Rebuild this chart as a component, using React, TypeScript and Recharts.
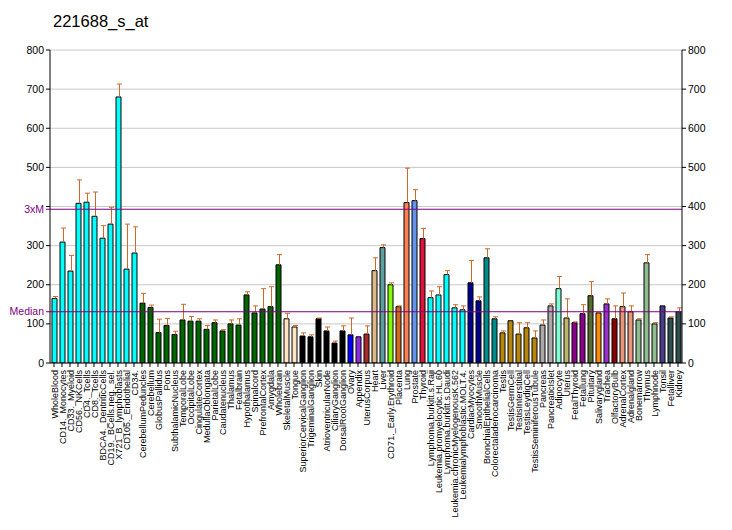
import React from "react";
import {
  ComposedChart,
  Bar,
  Cell,
  XAxis,
  YAxis,
  CartesianGrid,
  ReferenceLine,
} from "recharts";

const categories: string[] = [
  "WholeBlood", "CD14._Monocytes", "CD33._Myeloid", "CD56._NKCells", "CD4._Tcells",
  "CD8._Tcells", "BDCA4._DentriticCells", "CD19._BCells.neg._sel.", "X721_B_lymphoblasts",
  "CD105._Endothelial", "CD34.", "CerebellumPeduncles", "Cerebellum", "GlobusPallidus",
  "Pons", "SubthalamicNucleus", "TemporalLobe", "OccipitalLobe", "CingulateCortex",
  "MedullaOblongata", "ParietalLobe", "Caudatenucleus", "Thalamus", "Fetalbrain",
  "Hypothalamus", "Spinalcord", "PrefrontalCortex", "Amygdala", "Wholebrain",
  "SkeletalMuscle", "Tongue", "SuperiorCervicalGanglion", "TrigeminalGanglion", "Skin",
  "AtrioventricularNode", "CiliaryGanglion", "DorsalRootGanglion", "Ovary", "Appendix",
  "UterusCorpus", "Heart", "Liver", "CD71._Early.Erythroid", "Placenta", "Lung",
  "Prostate", "Thyroid", "Lymphoma.burkitt.s.Raji", "Leukemia.promyelocytic.HL.60",
  "Lymphoma.burkitt.s.Daudi", "Leukemia.chronicMyelogenousK.562",
  "Leukemialymphoblastic.MOLT.4.", "CardiacMyocytes", "SmoothMuscle",
  "BronchialEpithelialCells", "Colorectaladenocarcinoma", "Testis", "TestisGermCell",
  "TestisInterstitial", "TestisLeydigCell", "TestisSeminiferousTubule", "Pancreas",
  "PancreaticIslet", "Adipocyte", "Uterus", "FetalThyroid", "Fetallung", "Pituitary",
  "Salivarygland", "Trachea", "OlfactoryBulb", "AdrenalCortex", "Adrenalgland",
  "Bonemarrow", "Thymus", "Lymphnode", "Tonsil", "Fetalliver", "Kidney",
];

const values: number[] = [
  165, 309, 235, 408, 411, 375, 319, 355, 680, 240, 281,
  153, 142, 78, 96, 73, 110, 107, 107, 86, 103, 82, 100, 97, 174, 128, 138, 144, 251,
  113, 92, 69, 67, 113, 82, 51, 82, 72, 67, 74, 236, 295, 200, 144, 410, 415, 318,
  167, 174, 226, 141, 136, 205, 159, 269, 113, 77, 108, 74, 90, 64, 97, 146, 190, 115,
  103, 126, 172, 128, 151, 113, 144, 131, 110, 256, 100, 146, 115, 131,
];

const errors: number[] = [
  5, 36, 40, 60, 23, 62, 32, 43, 33, 115, 67,
  25, 6, 34, 18, 8, 40, 12, 6, 10, 7, 3, 10, 16, 8, 18, 52, 51, 26,
  14, 4, 8, 5, 2, 10, 5, 13, 43, 0, 21, 33, 7, 5, 2, 88, 28, 26,
  17, 21, 10, 8, 10, 57, 10, 23, 5, 5, 0, 29, 13, 18, 13, 5, 31, 49,
  2, 23, 36, 0, 13, 33, 35, 15, 3, 21, 3, 0, 3, 10,
];

const barColors: string[] = [
  "#00FFFF", "#00FFFF", "#00FFFF", "#00FFFF", "#00FFFF", "#00FFFF", "#00FFFF", "#00FFFF",
  "#00FFFF", "#00FFFF", "#00FFFF",
  "#006400", "#006400", "#006400", "#006400", "#006400", "#006400", "#006400", "#006400",
  "#006400", "#006400", "#006400", "#006400", "#006400", "#006400", "#006400", "#006400",
  "#006400", "#006400",
  "#FFE4C4", "#FFE4C4",
  "#000000", "#000000", "#000000", "#000000", "#000000", "#000000",
  "#0000FF", "#8A2BE2", "#A52A2A", "#DEB887", "#5F9EA0", "#7FFF00", "#D2691E", "#FF7F50",
  "#6495ED", "#DC143C",
  "#00FFFF", "#00FFFF", "#00FFFF", "#00FFFF", "#00FFFF",
  "#00008B", "#00008B", "#008B8B", "#008B8B",
  "#B8860B", "#B8860B", "#B8860B", "#B8860B", "#B8860B",
  "#A9A9A9", "#A9A9A9", "#7FFFD4", "#BDB76B", "#8B008B", "#8B008B", "#556B2F", "#FF8C00",
  "#9932CC", "#8B0000", "#E9967A", "#E9967A", "#8FBC8F", "#8FBC8F", "#8FBC8F", "#483D8B",
  "#2F4F4F", "#2F4F4F",
];

const yTicks: number[] = [0, 100, 200, 300, 400, 500, 600, 700, 800];
const medianValue = 131;
const threeXMValue = 393;

const data = categories.map((name, i) => ({
  name,
  value: values[i],
  err: errors[i],
}));

const FONT = "'Liberation Sans', Arial, Helvetica, sans-serif";
const PURPLE = "#800080";
const ERR = "#CC6A2C";

const XTick = (props: any) => {
  const { x, y, payload } = props;
  return (
    <text
      x={0}
      y={0}
      transform={`translate(${x + 3.5},${y + 1}) rotate(-90)`}
      textAnchor="end"
      fontSize={9}
      fontFamily={FONT}
      fill="#000"
    >
      {payload.value}
    </text>
  );
};

const LeftTick = (props: any) => {
  const { x, y, payload } = props;
  if (payload.value === 400) return <g />;
  return (
    <text x={x} y={y} dy={3.5} textAnchor="end" fontSize={10.5} fontFamily={FONT} fill="#000">
      {payload.value}
    </text>
  );
};

const RightTick = (props: any) => {
  const { x, y, payload } = props;
  return (
    <text x={x} y={y} dy={3.5} textAnchor="start" fontSize={10.5} fontFamily={FONT} fill="#000">
      {payload.value}
    </text>
  );
};

const ErrShape = (props: any) => {
  const { x, y, width, height } = props;
  if (!height || height < 0.5) return <g />;
  const cx = Math.round(x + width / 2) + 0.5;
  return (
    <g>
      <line x1={cx} x2={cx} y1={y + height} y2={y} stroke={ERR} strokeWidth={1} />
      <line x1={cx - 2.5} x2={cx + 2.5} y1={y} y2={y} stroke={ERR} strokeWidth={1} />
    </g>
  );
};

const refLabel = (text: string) => (props: any) => {
  const vb = props.viewBox || {};
  const x = vb.x ?? 50;
  const y = vb.y ?? 0;
  return (
    <g>
      <line x1={x - 4} x2={x} y1={y} y2={y} stroke={PURPLE} strokeWidth={1} />
      <text x={x - 6} y={y} dy={3.5} textAnchor="end" fontSize={10.5} fontFamily={FONT} fill={PURPLE}>
        {text}
      </text>
    </g>
  );
};

export default function App() {
  return (
    <div style={{ position: "absolute", left: 0, top: 0, width: 732, height: 530, background: "#fff" }}>
      <div
        style={{
          position: "absolute",
          left: 53,
          top: 13,
          fontFamily: FONT,
          fontSize: "16.5px",
          lineHeight: "16.5px",
          color: "#000",
          whiteSpace: "nowrap",
        }}
      >
        221688_s_at
      </div>
      <ComposedChart
        width={732}
        height={530}
        data={data}
        margin={{ top: 50, right: 0, left: 0, bottom: 0 }}
        barCategoryGap={0}
      >
        <CartesianGrid horizontal={true} vertical={false} stroke="#C8C8C8" strokeWidth={1} />
        <XAxis
          dataKey="name"
          interval={0}
          height={167}
          tickSize={4}
          tickMargin={2}
          axisLine={{ stroke: "#000" }}
          tickLine={{ stroke: "#000" }}
          tick={XTick}
        />
        <YAxis
          domain={[0, 800]}
          ticks={yTicks}
          width={50}
          tickSize={4}
          tickMargin={2}
          axisLine={{ stroke: "#000" }}
          tickLine={{ stroke: "#000" }}
          tick={LeftTick}
          allowDataOverflow={true}
        />
        <YAxis
          yAxisId="right"
          orientation="right"
          domain={[0, 800]}
          ticks={yTicks}
          width={50}
          tickSize={4}
          tickMargin={2}
          axisLine={{ stroke: "#000" }}
          tickLine={{ stroke: "#000" }}
          tick={RightTick}
          allowDataOverflow={true}
        />
        <Bar dataKey="value" stackId="a" barSize={5} stroke="#000" strokeWidth={1} isAnimationActive={false}>
          {data.map((d, i) => (
            <Cell key={d.name} fill={barColors[i]} />
          ))}
        </Bar>
        <Bar dataKey="err" stackId="a" barSize={5} shape={ErrShape} isAnimationActive={false} />
        <ReferenceLine y={threeXMValue} stroke={PURPLE} strokeWidth={1} label={refLabel("3xM")} />
        <ReferenceLine y={medianValue} stroke={PURPLE} strokeWidth={1} label={refLabel("Median")} />
      </ComposedChart>
    </div>
  );
}
